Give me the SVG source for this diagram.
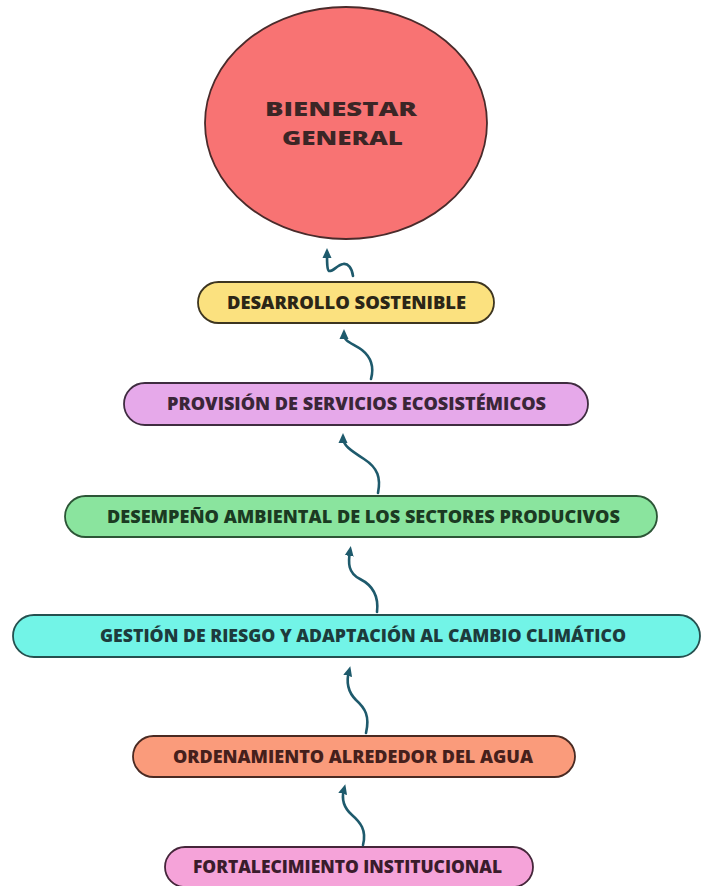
<svg xmlns="http://www.w3.org/2000/svg" width="702" height="886" viewBox="0 0 702 886">
<defs>
<marker id="ah" markerWidth="10" markerHeight="10" refX="5" refY="5" orient="auto" markerUnits="userSpaceOnUse" viewBox="0 0 10 10">
<path d="M0,0.5 L10,5 L0,9.5 Z" fill="#1e5a6c"/>
</marker>
<style>
.pill{stroke-width:1.8}
.lbl{font-family:"Open Sans","Liberation Sans",Arial,sans-serif;font-weight:800;font-size:17px;text-anchor:middle}
.big{font-size:20px}
.arr{fill:none;stroke:#1e5a6c;stroke-width:2.6;stroke-linecap:round;marker-end:url(#ah)}
</style>
</defs>
<rect width="702" height="886" fill="#ffffff"/>
<g id="bienestar">
<ellipse cx="346" cy="123" rx="141" ry="116" fill="#f87373" stroke="#4a2b2b" stroke-width="1.8"/>
<text class="lbl big" x="341" y="116" fill="#3b2626" textLength="152" lengthAdjust="spacingAndGlyphs">BIENESTAR</text>
<text class="lbl big" x="342.5" y="145" fill="#3b2626" textLength="121" lengthAdjust="spacingAndGlyphs">GENERAL</text>
</g>
<g id="desarrollo">
<rect class="pill" x="198" y="282" width="296" height="41" rx="20.5" fill="#fbe17f" stroke="#3d3520"/>
<text class="lbl" x="346.5" y="308.5" fill="#2b2617" textLength="239" lengthAdjust="spacingAndGlyphs">DESARROLLO SOSTENIBLE</text>
</g>
<g id="provision">
<rect class="pill" x="124" y="383" width="464" height="42" rx="21" fill="#e6a9ea" stroke="#3f2c40"/>
<text class="lbl" x="356.5" y="409.5" fill="#3a2638" textLength="379" lengthAdjust="spacingAndGlyphs">PROVISIÓN DE SERVICIOS ECOSISTÉMICOS</text>
</g>
<g id="desempeno">
<rect class="pill" x="65" y="496" width="592" height="41" rx="20.5" fill="#8ae49e" stroke="#2c5536"/>
<text class="lbl" x="363.5" y="522.5" fill="#1b3a22" textLength="513" lengthAdjust="spacingAndGlyphs">DESEMPEÑO AMBIENTAL DE LOS SECTORES PRODUCIVOS</text>
</g>
<g id="gestion">
<rect class="pill" x="13" y="615" width="687" height="42" rx="21" fill="#72f4e7" stroke="#25504f"/>
<text class="lbl" x="363" y="642" fill="#1d3b3c" textLength="526" lengthAdjust="spacingAndGlyphs">GESTIÓN DE RIESGO Y ADAPTACIÓN AL CAMBIO CLIMÁTICO</text>
</g>
<g id="ordenamiento">
<rect class="pill" x="133" y="736" width="442" height="41" rx="20.5" fill="#fa9b7b" stroke="#4a2a22"/>
<text class="lbl" x="353" y="762.5" fill="#45201c" textLength="360" lengthAdjust="spacingAndGlyphs">ORDENAMIENTO ALREDEDOR DEL AGUA</text>
</g>
<g id="fortalecimiento">
<rect class="pill" x="165" y="847" width="368" height="40" rx="20" fill="#f5a3d9" stroke="#45263a"/>
<text class="lbl" x="347.5" y="873" fill="#3a1c2c" textLength="309" lengthAdjust="spacingAndGlyphs">FORTALECIMIENTO INSTITUCIONAL</text>
</g>
<g id="connectors">
<path class="arr" d="M353,276 C352,268 348,263 343,264 C337,265 333,272 329,271 C327,270 327,262 327,253"/>
<path class="arr" d="M371,379 C374,368 372,358 362,350 C352,343 344,342 344,334"/>
<path class="arr" d="M378,493 C381,478 378,468 364,459 C350,450 343,445 343,438"/>
<path class="arr" d="M377,612 C379,595 372,585 360,579 C348,573 348,563 350,551"/>
<path class="arr" d="M366,733 C370,716 365,708 356,700 C348,692 346,682 349,671"/>
<path class="arr" d="M363,845 C367,830 360,822 352,815 C344,808 341,800 344,789"/>
</g>
</svg>
